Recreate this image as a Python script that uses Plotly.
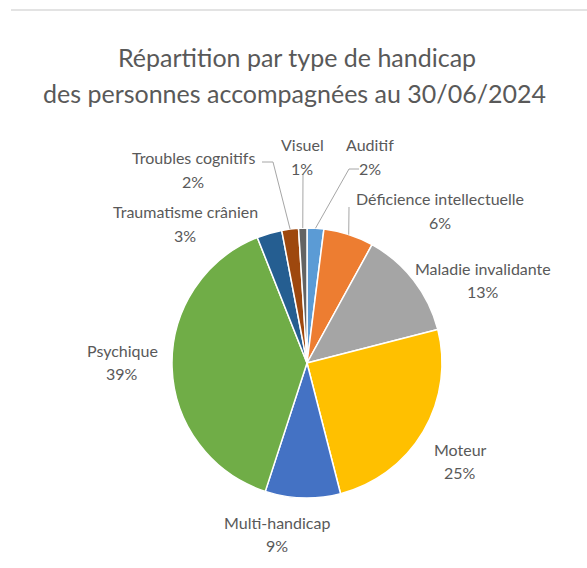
import math
import plotly.graph_objects as go

# Répartition des personnes accompagnées par type de handicap (en %)
categories = [
    "Auditif",
    "Déficience intellectuelle",
    "Maladie invalidante",
    "Moteur",
    "Multi-handicap",
    "Psychique",
    "Traumatisme crânien",
    "Troubles cognitifs",
    "Visuel",
]
values = [2, 6, 13, 25, 9, 39, 3, 2, 1]

colors = ["#5B9BD5", "#ED7D31", "#A5A5A5", "#FFC000", "#4472C4",
          "#70AD47", "#255E91", "#9E480E", "#636363"]

W, H = 587, 568
CX, CY, R = 307, 363, 135          # pie centre and radius, in pixels
TEXT = "#595959"
FONT = "Lato"
LABEL_SIZE = 16
TITLE_SIZE = 25


def px(x):
    return x / W


def py(y):
    return 1 - y / H


fig = go.Figure(go.Pie(
    labels=categories,
    values=values,
    sort=False,
    direction="clockwise",
    rotation=0,
    marker=dict(colors=colors, line=dict(color="white", width=1.5)),
    textinfo="none",
    hoverinfo="label+percent",
    domain=dict(x=[px(CX - R), px(CX + R)], y=[py(CY + R), py(CY - R)]),
    showlegend=False,
))

# label placement (centre of the name line), in pixels
label_pos = {
    "Auditif": (370, 145),
    "Déficience intellectuelle": (440, 199),
    "Maladie invalidante": (483, 268),
    "Moteur": (460, 449),
    "Multi-handicap": (277, 522),
    "Psychique": (122, 350),
    "Traumatisme crânien": (185, 212),
    "Troubles cognitifs": (193, 158),
    "Visuel": (302, 145),
}
# leader-line start points (pixels) for the small slices
leader_start = {
    "Auditif": [(359, 169), (349, 169)],
    "Déficience intellectuelle": [(349, 207)],
    "Troubles cognitifs": [(262, 162), (273, 162)],
    "Visuel": [(303, 174)],
}

total = sum(values)
annotations = []
shapes = []
cum = 0
for name, v in zip(categories, values):
    mid = (cum + v / 2) / total * 2 * math.pi
    cum += v
    lx, ly = label_pos[name]
    annotations.append(dict(x=px(lx), y=py(ly), xref="paper", yref="paper",
                            text=name, showarrow=False, xanchor="center",
                            yanchor="middle",
                            font=dict(size=LABEL_SIZE, color=TEXT, family=FONT)))
    annotations.append(dict(x=px(lx), y=py(ly + 23), xref="paper", yref="paper",
                            text=f"{v}%", showarrow=False, xanchor="center",
                            yanchor="middle",
                            font=dict(size=LABEL_SIZE, color=TEXT, family=FONT)))
    if name in leader_start:
        ex = CX + R * math.sin(mid)
        ey = CY - R * math.cos(mid)
        pts = leader_start[name] + [(ex, ey)]
        path = "M " + " L ".join(f"{px(a)},{py(b)}" for a, b in pts)
        shapes.append(dict(type="path", path=path, xref="paper", yref="paper",
                           line=dict(color="#A6A6A6", width=1)))

# chart title
annotations.append(dict(x=px(297), y=py(57), xref="paper", yref="paper",
                        text="Répartition par type de handicap", showarrow=False,
                        xanchor="center", yanchor="middle",
                        font=dict(size=TITLE_SIZE, color=TEXT, family=FONT)))
annotations.append(dict(x=px(295), y=py(93), xref="paper", yref="paper",
                        text="des personnes accompagnées au 30/06/2024", showarrow=False,
                        xanchor="center", yanchor="middle",
                        font=dict(size=TITLE_SIZE, color=TEXT, family=FONT)))

# thin frame line across the top
shapes.append(dict(type="line", xref="paper", yref="paper",
                   x0=px(11), x1=1, y0=py(10), y1=py(10),
                   line=dict(color="#E3E3E3", width=2)))

fig.update_layout(
    width=W, height=H,
    margin=dict(l=0, r=0, t=0, b=0),
    paper_bgcolor="white",
    plot_bgcolor="white",
    annotations=annotations,
    shapes=shapes,
)

fig.write_html("out.html")
